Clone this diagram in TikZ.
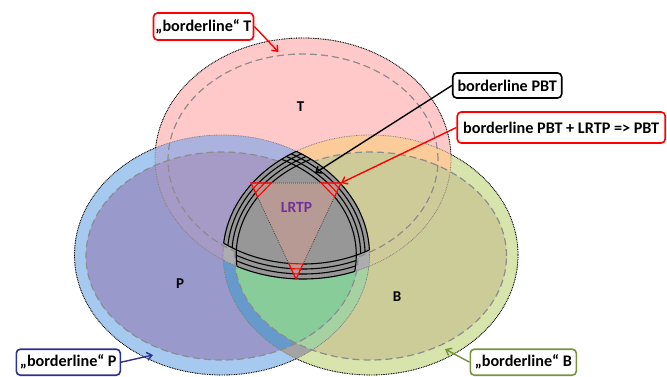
\documentclass[tikz,border=0pt]{standalone}
\usepackage{fontspec}
\setmainfont{Carlito}
\usetikzlibrary{arrows.meta,intersections}
\definecolor{cT}{HTML}{FFC9C9}
\definecolor{cPr}{HTML}{A6C9EF}
\definecolor{cPi}{HTML}{9999CC}
\definecolor{cBr}{HTML}{D7E4AB}
\definecolor{cBi}{HTML}{CCCC99}
\definecolor{cTPr}{HTML}{ABB2DE}
\definecolor{cTPi}{HTML}{A69AC6}
\definecolor{cTBr}{HTML}{FBCB99}
\definecolor{cTBi}{HTML}{CFCB98}
\definecolor{cPrBr}{HTML}{A3A3A3}
\definecolor{cPrBi}{HTML}{A6D2A2}
\definecolor{cPiBr}{HTML}{6699CC}
\definecolor{cPiBi}{HTML}{88CC99}
\definecolor{cTPB}{HTML}{ADADB0}
\definecolor{cDark}{HTML}{979797}
\definecolor{cTri}{HTML}{B69A93}
\definecolor{cLRTP}{HTML}{7030A0}
\definecolor{cNavy}{HTML}{2E3192}
\definecolor{cGreen}{HTML}{77933C}
\definecolor{cRed}{HTML}{FF0000}
\definecolor{cDash}{HTML}{8C8C8C}
\def\elTo{(303,158.5) ellipse [x radius=148pt, y radius=120.5pt]}
\def\elTa{(303,158.5) ellipse [x radius=143pt, y radius=115.5pt]}
\def\elTb{(303,158.5) ellipse [x radius=138pt, y radius=110.5pt]}
\def\elTc{(303,158.5) ellipse [x radius=133pt, y radius=105.5pt]}
\def\elTi{(303,160) ellipse [x radius=135pt, y radius=106pt]}
\def\elPo{(222,255) ellipse [x radius=147.5pt, y radius=120pt]}
\def\elPa{(222,255) ellipse [x radius=143.1pt, y radius=115.6pt]}
\def\elPb{(222,255) ellipse [x radius=138.7pt, y radius=111.2pt]}
\def\elPc{(222,255) ellipse [x radius=134.3pt, y radius=106.8pt]}
\def\elPi{(222,256) ellipse [x radius=136pt, y radius=104pt]}
\def\elBo{(370.5,255) ellipse [x radius=147.5pt, y radius=120pt]}
\def\elBa{(370.5,255) ellipse [x radius=143.1pt, y radius=115.6pt]}
\def\elBb{(370.5,255) ellipse [x radius=138.7pt, y radius=111.2pt]}
\def\elBc{(370.5,255) ellipse [x radius=134.3pt, y radius=106.8pt]}
\def\elBi{(370.5,256) ellipse [x radius=136pt, y radius=104pt]}
\def\bigrect{(-5,-5) rectangle (672,382)}
\begin{document}
\begin{tikzpicture}[x=1pt,y=-1pt,
  outtint/.style={draw=black!50, line width=0.8pt, dash pattern=on 0.8pt off 0.9pt},
  outblk/.style={draw=black, line width=0.8pt, dash pattern=on 0.8pt off 0.9pt},
  dashd/.style={draw=cDash, line width=1.2pt, dash pattern=on 7pt off 4pt},
  band/.style={draw=black, line width=1.1pt},
  rband/.style={draw=cRed, line width=1.1pt},
  callout/.style={draw, line width=1.6pt, rounded corners=4pt, fill=white, inner xsep=2pt, inner ysep=2pt, font=\fontsize{16.2}{19}\selectfont\bfseries},
  setlbl/.style={font=\fontsize{15}{18}\selectfont\bfseries, text=black},
  arr/.style={line width=1.4pt, -{Straight Barb[length=5pt,width=8pt]}}]
\fill[white] (0,0) rectangle (667,377);
\useasboundingbox (0,0) rectangle (667,377);
% base fills
\fill[cT] \elTo;
\fill[cPr] \elPo; \fill[cPi] \elPi;
\fill[cBr] \elBo; \fill[cBi] \elBi;
\begin{scope}\clip \elTo; \fill[cTPr] \elPo; \fill[cTPi] \elPi; \end{scope}
\begin{scope}\clip \elTo; \fill[cTBr] \elBo; \fill[cTBi] \elBi; \end{scope}
\begin{scope}\clip \elPo; \fill[cPrBr] \elBo; \fill[cPrBi] \elBi; \end{scope}
\begin{scope}\clip \elPi; \fill[cPiBr] \elBo; \fill[cPiBi] \elBi; \end{scope}
\begin{scope}\clip \elTo; \clip \elPo; \fill[cTPB] \elBo; \end{scope}
% outlines
\path[outtint] \elTo \elPo \elBo;
\begin{scope}[even odd rule]\clip \bigrect \elPo; \clip \bigrect \elBo; \path[outblk] \elTo; \end{scope}
\begin{scope}[even odd rule]\clip \bigrect \elTo; \clip \bigrect \elBo; \path[outblk] \elPo; \end{scope}
\begin{scope}[even odd rule]\clip \bigrect \elTo; \clip \bigrect \elPo; \path[outblk] \elBo; \end{scope}
\path[dashd] \elTi \elPi \elBi;
% dark central region
\begin{scope}\clip \elBo; \clip \elPo; \fill[cDark] \elTc; \end{scope}
\begin{scope}\clip \elBc; \clip \elPc; \fill[cDark] \elTo; \end{scope}
% triangle corners
\coordinate (A) at (251,183);
\coordinate (C) at (341,183);
\coordinate (D) at (296,279);
% black bands outside the triangle
\begin{scope}[even odd rule]
\clip \bigrect (A) -- (C) -- (D) -- cycle;
\begin{scope}[nonzero rule]
\begin{scope}\clip \elPo; \clip \elTc; \path[band] \elBo \elBa \elBb; \end{scope}
\begin{scope}\clip \elPo; \clip \elTo; \path[band] \elBc; \end{scope}
\begin{scope}\clip \elBo; \clip \elTc; \path[band] \elPo \elPa \elPb; \end{scope}
\begin{scope}\clip \elBo; \clip \elTo; \path[band] \elPc; \end{scope}
\begin{scope}\clip \elBc; \clip \elPc; \path[band] \elTo \elTa \elTb; \end{scope}
\begin{scope}\clip \elBo; \clip \elPo; \path[band] \elTc; \end{scope}
\end{scope}
\end{scope}
% LRTP triangle
\fill[cTri] (A) -- (C) -- (D) -- cycle;
\draw[black!75, line width=0.8pt, dash pattern=on 0.8pt off 1.2pt] (A) -- (C) -- (D) -- cycle;
\path[name path=sAC] (A) -- (C);
\path[name path=sAD] (A) -- (D);
\path[name path=sCD] (C) -- (D);
\path[name path=eB] \elBc;
\path[name path=eP] \elPc;
\path[name path=eT] \elTc;
\path[name intersections={of=eB and sAC, by={q1}}];
\path[name intersections={of=eB and sAD, by={q2}}];
\path[name intersections={of=eP and sAC, by={q3}}];
\path[name intersections={of=eP and sCD, by={q4}}];
\path[name intersections={of=eT and sAD, by={q5}}];
\path[name intersections={of=eT and sCD, by={q6}}];
\begin{scope}\clip (A) -- (q1) -- (q2) -- cycle; \path[rband] \elBa \elBb; \end{scope}
\begin{scope}\clip (C) -- (q3) -- (q4) -- cycle; \path[rband] \elPa \elPb; \end{scope}
\begin{scope}\clip (D) -- (q5) -- (q6) -- cycle; \path[rband] \elTa \elTb; \end{scope}
\draw[rband, line join=miter] (A) -- (q1) -- (q2) -- cycle;
\draw[rband, line join=miter] (C) -- (q3) -- (q4) -- cycle;
\draw[rband, line join=miter] (D) -- (q5) -- (q6) -- cycle;
% set labels
\node[setlbl] (lT) at (300.5,107) {T};
\node[setlbl] (lP) at (180,283.5) {P};
\node[setlbl] (lB) at (397,296.5) {B};
\node[font=\fontsize{15.5}{18}\selectfont\bfseries, text=cLRTP] (lL) at (296.5,207) {LRTP};
% callouts
\node[callout, draw=cRed, minimum width=99pt, minimum height=27pt] (bT) at (203.5,26.5) {„borderline“ T};
\node[callout, draw=black, minimum width=109pt, minimum height=25pt] (bPBT) at (507.2,85.5) {borderline PBT};
\node[callout, draw=cRed, minimum width=208pt, minimum height=31pt] (bPL) at (561.2,127.5) {borderline PBT + LRTP => PBT};
\node[callout, draw=cNavy, minimum width=104pt, minimum height=26pt] (bP) at (68.3,362.2) {„borderline“ P};
\node[callout, draw=cGreen, minimum width=106pt, minimum height=26pt] (bB) at (523.3,362.2) {„borderline“ B};
\coordinate (tT) at (278.5,52);
\coordinate (tPBT) at (315,173);
\coordinate (tPL) at (341,183);
\coordinate (tP) at (153,355);
\coordinate (tB) at (445,349);
\draw[arr, cRed] (bT.east) -- (tT);
\draw[arr, black] (bPBT.west) -- (tPBT);
\draw[arr, cRed] (bPL.west) -- (tPL);
\draw[arr, cNavy] (bP.east) -- (tP);
\draw[arr, cGreen] (bB.west) -- (tB);
\end{tikzpicture}
\end{document}
